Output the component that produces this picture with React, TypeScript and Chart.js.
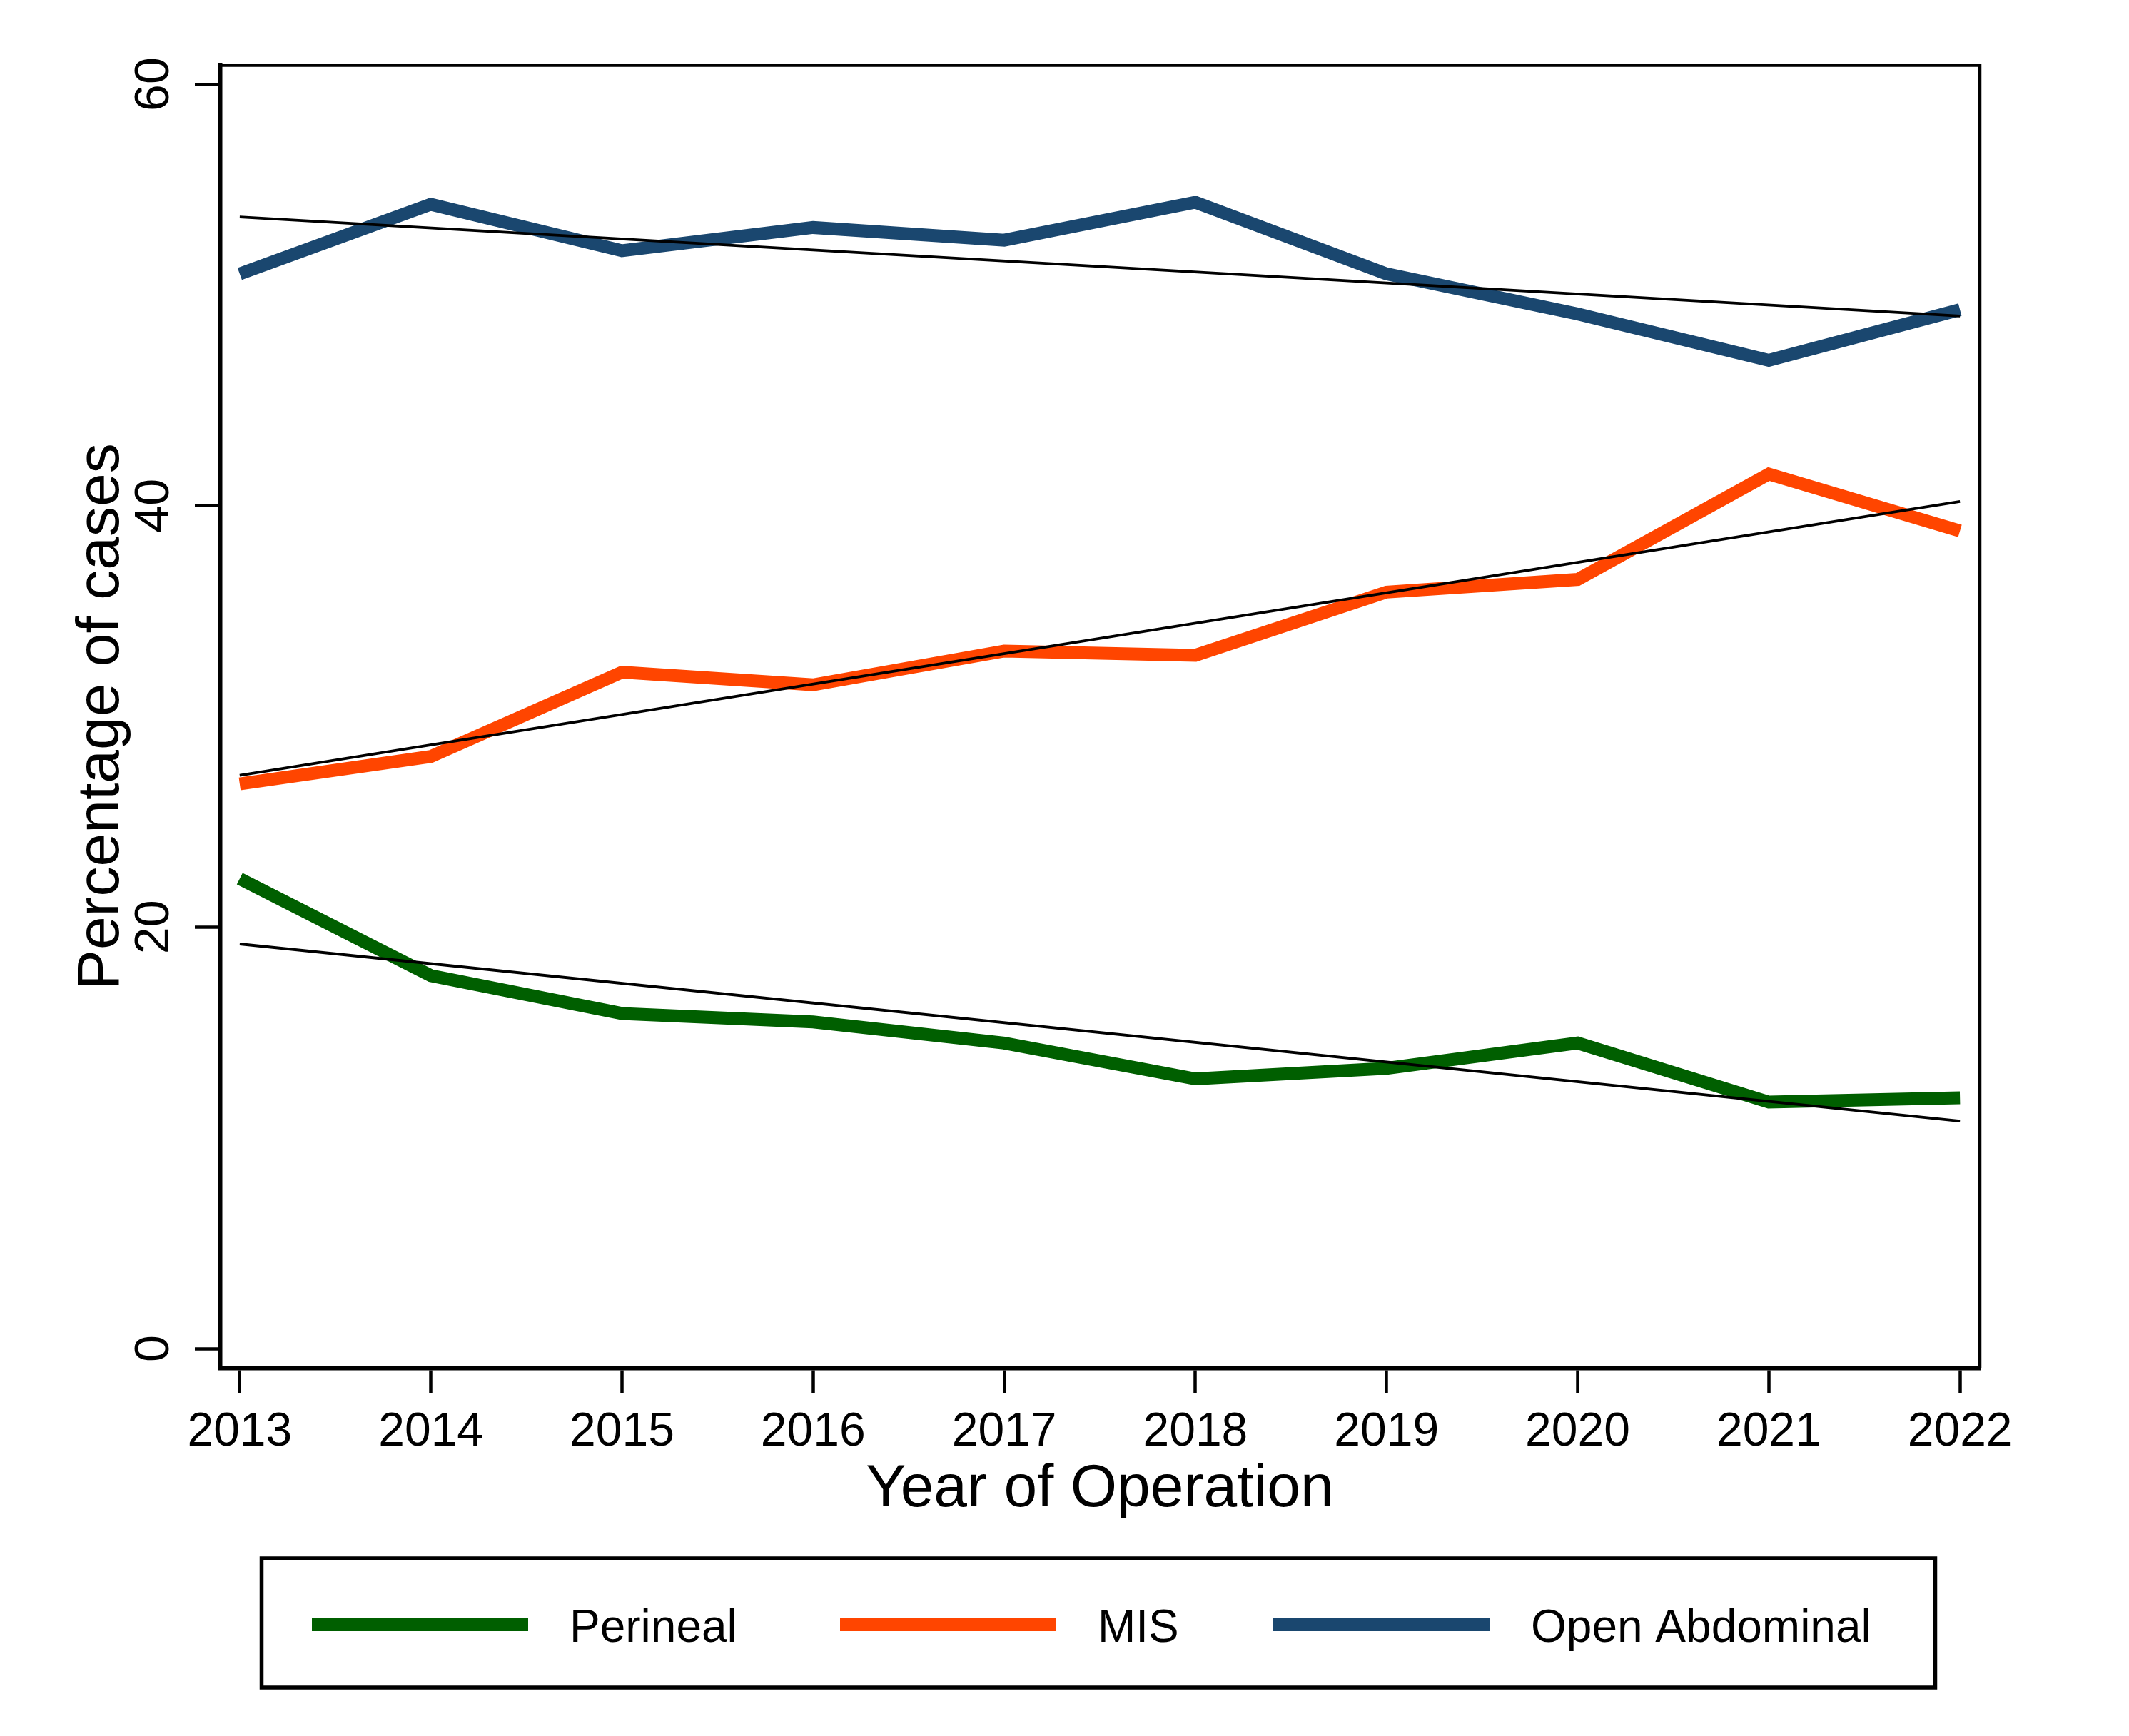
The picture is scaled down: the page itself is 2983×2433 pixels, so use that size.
import React, { useEffect, useRef } from "react";
import { Chart, registerables } from "chart.js";

Chart.register(...registerables);

const W = 2983;
const H = 2433;

// ---- data ----
const years = [2013, 2014, 2015, 2016, 2017, 2018, 2019, 2020, 2021, 2022];
const perineal = [22.3, 17.7, 15.9, 15.5, 14.5, 12.8, 13.3, 14.5, 11.7, 11.9];
const mis = [26.8, 28.1, 32.1, 31.5, 33.1, 32.9, 35.9, 36.5, 41.5, 38.8];
const openAbdominal = [51.0, 54.3, 52.1, 53.2, 52.6, 54.4, 51.0, 49.1, 46.9, 49.3];
const trendYears = [2013, 2022];
const trendPerineal = [19.2, 10.8];
const trendMis = [27.2, 40.2];
const trendOpen = [53.7, 49.0];
const yTicks = [0, 20, 40, 60];
const seriesLabels = ["Perineal", "MIS", "Open Abdominal"];
const seriesColors = ["#005F00", "#FF4500", "#1A476F"];

const FONT = "'Liberation Sans', Arial, Helvetica, sans-serif";

const toPoints = (xs: number[], ys: number[]) => xs.map((x, i) => ({ x, y: ys[i] }));

const framePlugin = {
  id: "frame",
  afterDatasetsDraw(chart: any) {
    const { ctx, chartArea } = chart;
    ctx.save();
    ctx.strokeStyle = "#000";
    ctx.lineWidth = 4.5;
    ctx.beginPath();
    ctx.moveTo(chartArea.left, chartArea.top);
    ctx.lineTo(chartArea.right, chartArea.top);
    ctx.lineTo(chartArea.right, chartArea.bottom);
    ctx.stroke();
    ctx.restore();
  },
};

const boxLegendPlugin = {
  id: "boxLegend",
  afterDraw(chart: any) {
    const { ctx } = chart;
    const box = { left: 366.5, top: 2184, right: 2711.5, bottom: 2365 };
    const starts = [437, 1177, 1784];
    const lineLen = 303;
    const lineY = 2277;
    const gap = 58;
    const baseline = 2301;
    ctx.save();
    ctx.strokeStyle = "#000";
    ctx.lineWidth = 5.5;
    ctx.strokeRect(box.left, box.top, box.right - box.left, box.bottom - box.top);
    const ds = chart.data.datasets.filter((d: any) => d.isSeries);
    ds.forEach((d: any, i: number) => {
      const x0 = starts[i];
      ctx.strokeStyle = d.borderColor;
      ctx.lineWidth = 18;
      ctx.lineCap = "butt";
      ctx.beginPath();
      ctx.moveTo(x0, lineY);
      ctx.lineTo(x0 + lineLen, lineY);
      ctx.stroke();
      ctx.fillStyle = "#000";
      ctx.font = `64px ${FONT}`;
      ctx.textAlign = "left";
      ctx.textBaseline = "alphabetic";
      ctx.fillText(d.label, x0 + lineLen + gap, baseline);
    });
    ctx.restore();
  },
};

export default function App() {
  const ref = useRef<HTMLCanvasElement>(null);

  useEffect(() => {
    document.documentElement.style.margin = "0";
    document.body.style.margin = "0";
    document.body.style.overflow = "hidden";
    const canvas = ref.current!;
    Chart.defaults.font.family = FONT;
    Chart.defaults.color = "#000";

    const seriesData = [perineal, mis, openAbdominal];
    const trendData = [trendPerineal, trendMis, trendOpen];

    const datasets: any[] = [];
    seriesData.forEach((vals, i) => {
      datasets.push({
        label: seriesLabels[i],
        isSeries: true,
        data: toPoints(years, vals),
        borderColor: seriesColors[i],
        backgroundColor: seriesColors[i],
        borderWidth: 18,
        borderCapStyle: "butt",
        borderJoinStyle: "miter",
        pointRadius: 0,
        tension: 0,
        fill: false,
        order: 1,
      });
    });
    trendData.forEach((vals, i) => {
      datasets.push({
        label: seriesLabels[i] + " trend",
        isSeries: false,
        data: toPoints(trendYears, vals),
        borderColor: "#000",
        borderWidth: 3.8,
        borderCapStyle: "butt",
        pointRadius: 0,
        tension: 0,
        fill: false,
        order: 0,
      });
    });

    const chart = new Chart(canvas, {
      type: "line",
      data: { datasets },
      options: {
        responsive: false,
        animation: false,
        devicePixelRatio: 1,
        layout: { padding: { left: 0, top: 91.5, right: 209, bottom: 295 } },
        plugins: {
          legend: { display: false },
          tooltip: { enabled: false },
          title: { display: false },
        },
        scales: {
          x: {
            type: "linear",
            min: 2013 - 0.104,
            max: 2022 + 0.104,
            afterBuildTicks: (axis: any) => {
              axis.ticks = years.map((v) => ({ value: v }));
            },
            afterFit: (scale: any) => {
              scale.height = 221;
            },
            border: { display: true, color: "#000", width: 6.5 },
            grid: {
              display: true,
              drawOnChartArea: false,
              drawTicks: true,
              tickLength: 35,
              tickWidth: 4.5,
              tickColor: "#000",
            },
            ticks: {
              autoSkip: false,
              maxRotation: 0,
              minRotation: 0,
              padding: 16,
              color: "#000",
              font: { size: 66, family: FONT },
              callback: (v: any) => String(v),
            },
            title: {
              display: true,
              text: "Year of Operation",
              color: "#000",
              font: { size: 84, family: FONT },
              padding: { top: 0, bottom: 0 },
            },
          },
          y: {
            type: "linear",
            min: -0.914,
            max: 60.9,
            afterBuildTicks: (axis: any) => {
              axis.ticks = yTicks.map((v) => ({ value: v }));
            },
            afterFit: (scale: any) => {
              scale.width = 308;
            },
            border: { display: true, color: "#000", width: 6.5 },
            grid: {
              display: true,
              drawOnChartArea: false,
              drawTicks: true,
              tickLength: 35,
              tickWidth: 4.5,
              tickColor: "#000",
            },
            ticks: {
              minRotation: 90,
              maxRotation: 90,
              crossAlign: "center",
              padding: 18,
              color: "#000",
              font: { size: 68, family: FONT },
              callback: (v: any) => String(v),
            },
            title: {
              display: true,
              text: "Percentage of cases",
              color: "#000",
              font: { size: 84, family: FONT },
              padding: { top: 92, bottom: 0 },
            },
          },
        },
      } as any,
      plugins: [framePlugin, boxLegendPlugin],
    });
    return () => chart.destroy();
  }, []);

  return (
    <canvas
      ref={ref}
      width={W}
      height={H}
      style={{ display: "block", width: W, height: H }}
    />
  );
}
